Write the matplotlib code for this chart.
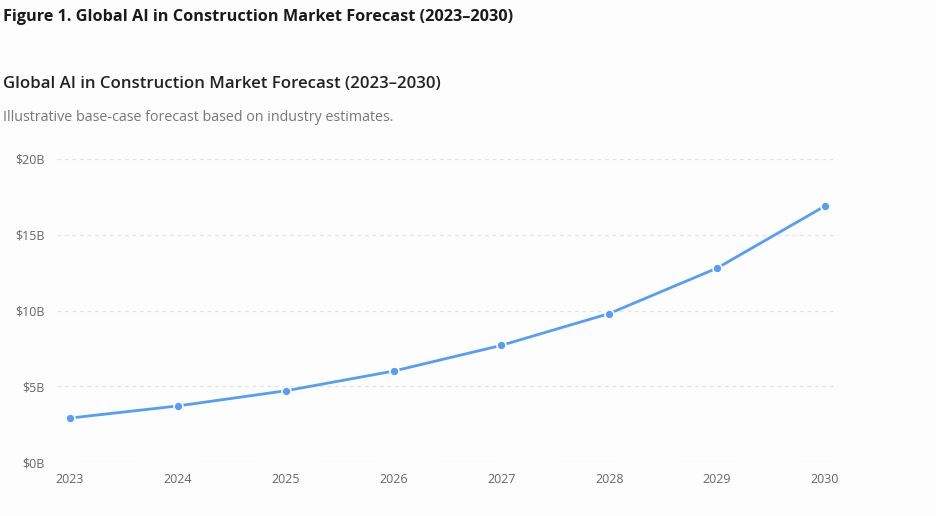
import matplotlib.pyplot as plt
from matplotlib.ticker import FuncFormatter

plt.rcParams['font.family'] = ['Open Sans', 'DejaVu Sans']

years = [2023, 2024, 2025, 2026, 2027, 2028, 2029, 2030]
market_size = [2.9, 3.7, 4.7, 6.0, 7.7, 9.8, 12.8, 16.9]  # USD billions
y_ticks = [0, 5, 10, 15, 20]

fig = plt.figure(figsize=(9.36, 5.16), dpi=100)
fig.patch.set_facecolor('#fdfdfd')

fig.text(0.003, 0.967, 'Figure 1. Global AI in Construction Market Forecast (2023\u20132030)',
         fontsize=11.7, fontweight='bold', color='#1a1a1a', va='center', ha='left')
fig.text(0.003, 0.837, 'Global AI in Construction Market Forecast (2023\u20132030)',
         fontsize=12.1, fontweight='semibold', color='#222222', va='center', ha='left')
fig.text(0.003, 0.773, 'Illustrative base-case forecast based on industry estimates.',
         fontsize=10.3, color='#777777', va='center', ha='left')

ax = fig.add_axes([57 / 936, (516 - 462) / 516, (838 - 57) / 936, (462 - 159) / 516])
ax.set_facecolor('#fdfdfd')

ax.plot(years, market_size, color='#559ef7', linewidth=2, marker='o', markersize=6.5,
        markerfacecolor='#559ef7', markeredgecolor='white', markeredgewidth=1.2,
        clip_on=False, zorder=3)

ax.set_ylim(0, 20)
ax.set_xlim(2023 - 0.12, 2030 + 0.12)
ax.set_yticks(y_ticks)
ax.set_xticks(years)
ax.yaxis.set_major_formatter(FuncFormatter(lambda v, p: f'${v:.0f}B'))
ax.grid(axis='y', linestyle=(0, (3, 3)), color='#e3e3e3', linewidth=0.9)
ax.set_axisbelow(True)

for s in ax.spines.values():
    s.set_visible(False)
ax.tick_params(length=0, labelsize=9, colors='#666666')
ax.tick_params(axis='y', pad=9)
ax.tick_params(axis='x', pad=8)

fig.savefig('out.png', dpi=100, facecolor=fig.get_facecolor())
